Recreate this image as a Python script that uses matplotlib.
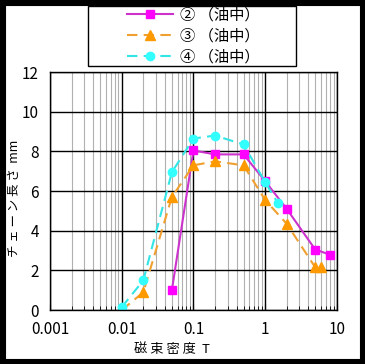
import matplotlib
matplotlib.use("Agg")
import matplotlib.pyplot as plt
from matplotlib.patches import Rectangle
from matplotlib.ticker import LogLocator, FixedLocator, NullFormatter

plt.rcParams['font.family'] = ['Noto Sans CJK JP', 'DejaVu Sans']

# data
b2 = [0.05, 0.1, 0.2, 0.5, 1, 2, 5, 8]
L2 = [1.0, 8.05, 7.85, 7.85, 6.5, 5.1, 3.05, 2.8]
b3 = [0.01, 0.02, 0.05, 0.1, 0.2, 0.5, 1, 2, 5, 6]
L3 = [0.0, 0.9, 5.7, 7.3, 7.5, 7.3, 5.55, 4.35, 2.15, 2.15]
b4 = [0.01, 0.02, 0.05, 0.1, 0.2, 0.5, 1, 1.5]
L4 = [0.15, 1.5, 6.95, 8.65, 8.8, 8.35, 6.45, 5.4]
labels = ['② （油中）', '③ （油中）', '④ （油中）']
xticks = [0.001, 0.01, 0.1, 1, 10]
xticklabels = ['0.001', '0.01', '0.1', '1', '10']

fig = plt.figure(figsize=(3.65, 3.64), dpi=100)
ax = fig.add_axes([0.137, 0.148, 0.786, 0.654])

ax.plot(b2, L2, '-', color='#CC33CC', lw=1.5, marker='s', ms=6,
        mfc='#FF00FF', mec='#FF00FF', label=labels[0])
ax.plot(b3, L3, '--', color='#F0A030', lw=1.5, dashes=(5, 3), marker='^', ms=7,
        mfc='#FF9900', mec='#FF9900', label=labels[1])
ax.plot(b4, L4, '--', color='#33E5E5', lw=1.5, dashes=(5, 3), marker='o', ms=6,
        mfc='#33FFFF', mec='#33FFFF', label=labels[2])

ax.set_xscale('log')
ax.set_xlim(0.001, 10)
ax.set_ylim(0, 12)
ax.set_yticks(range(0, 13, 2))
ax.xaxis.set_major_locator(FixedLocator(xticks))
ax.set_xticklabels(xticklabels)
ax.xaxis.set_minor_locator(LogLocator(base=10, subs=range(2, 10)))
ax.xaxis.set_minor_formatter(NullFormatter())
ax.grid(True, which='minor', axis='x', color='#B0B0B0', lw=0.8)
ax.grid(True, which='major', color='black', lw=1)
ax.set_axisbelow(True)
for s in ax.spines.values():
    s.set_color('black')
    s.set_linewidth(1)
ax.tick_params(which='both', direction='in', labelsize=11, length=4, top=False, right=False)
ax.tick_params(which='minor', length=3)
ax.tick_params(axis='y', length=0, pad=8)
ax.tick_params(axis='x', pad=8)
ax.set_xlabel('磁 束 密 度  T', fontsize=9.5, va='center')
ax.xaxis.set_label_coords(0.425, -0.164)
ax.set_ylabel('チ ェ ー ン 長 さ  mm', fontsize=9, va='center')
ax.yaxis.set_label_coords(-0.122, 0.47)

leg = fig.legend(loc='center', bbox_to_anchor=(0.53, 0.901), fontsize=11,
                 frameon=False, handlelength=3.0, borderpad=0.2,
                 labelspacing=0.25, handletextpad=0.5)

# legend frame drawn at its own spot, wider than the entries
fig.patches.append(Rectangle((0.241, 0.819), 0.570, 0.165, transform=fig.transFigure,
                             fill=False, edgecolor='black', lw=1))
# thick black frame round the whole picture
fig.patches.append(Rectangle((0, 0), 1, 1, transform=fig.transFigure, fill=False,
                             edgecolor='black', lw=8))

plt.savefig('out.png', dpi=100, facecolor='white')
